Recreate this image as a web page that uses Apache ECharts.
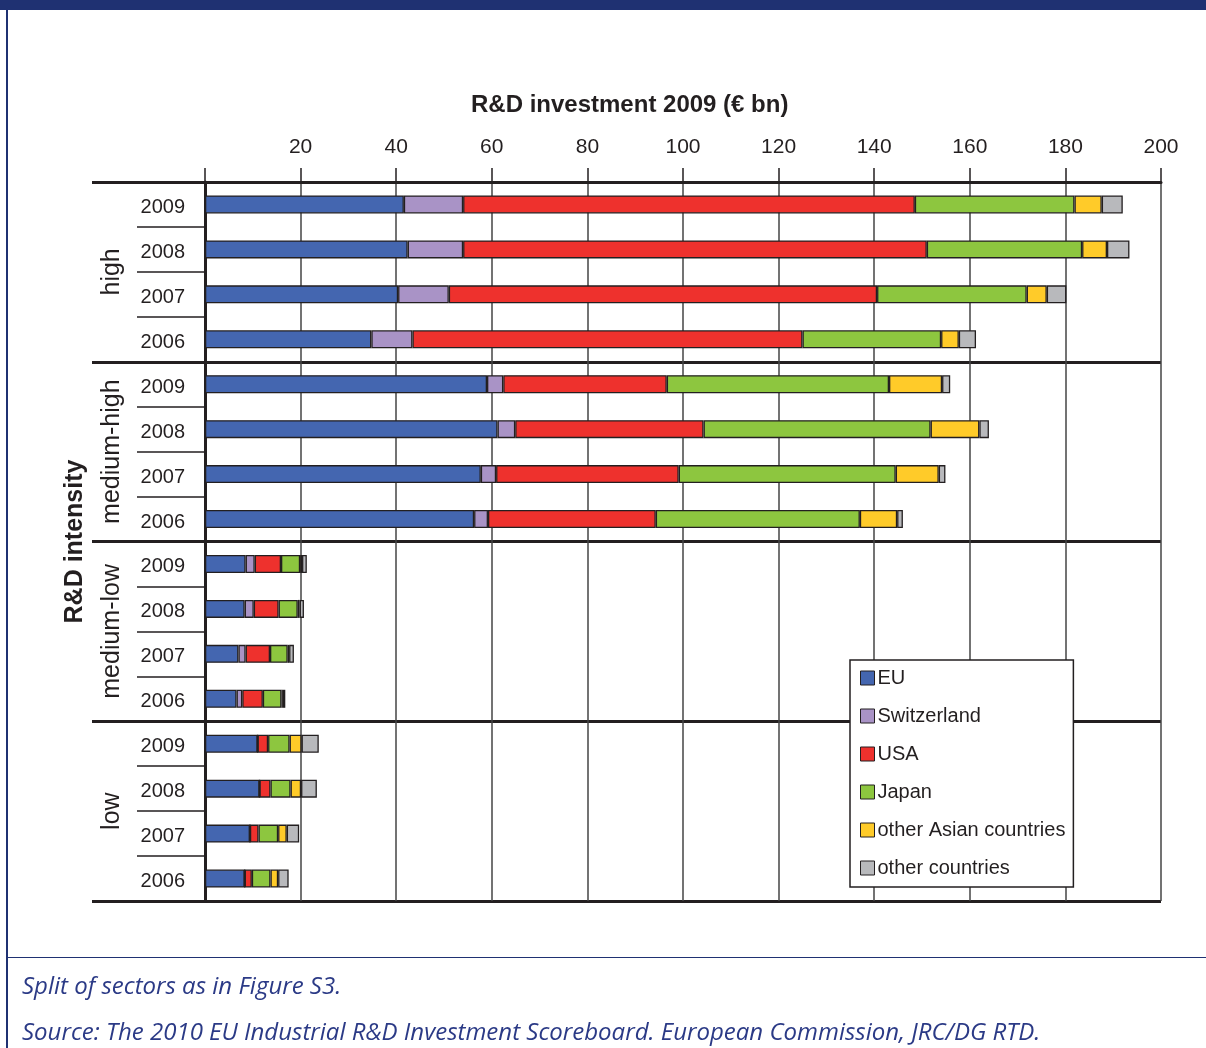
<!DOCTYPE html>
<html>
<head>
<meta charset="utf-8">
<script src="https://cdn.jsdelivr.net/npm/echarts@6/dist/echarts.min.js"></script>
<style>
  body { margin: 0; background: #fff; }
  #wrap { position: relative; width: 1206px; height: 1048px; overflow: hidden; }
  #chart { position: absolute; left: 0; top: 0; width: 1206px; height: 1048px; }
  .frame { position: absolute; background: #1f3172; pointer-events: none; }
  .note { position: absolute; left: 22px; font-family: "Open Sans", sans-serif; font-style: italic;
          font-size: 24px; color: #2b3a86; white-space: nowrap; pointer-events: none; }
</style>
</head>
<body>
<div id="wrap">
  <div id="chart"></div>
  <div class="frame" style="left:0;top:0;width:1206px;height:10px"></div>
  <div class="frame" style="left:6px;top:0;width:2px;height:1048px"></div>
  <div class="frame" style="left:6px;top:957px;width:1200px;height:1px"></div>
  <div class="note" style="top:968px">Split of sectors as in Figure S3.</div>
  <div class="note" style="top:1014px">Source: The 2010 EU Industrial R&amp;D Investment Scoreboard. European Commission, JRC/DG RTD.</div>
</div>
<script>
// grupos de intensidad y años (de arriba a abajo)
const groups = ['high', 'medium-high', 'medium-low', 'low'];
const years = ['2009', '2008', '2007', '2006'];

// valores en miles de millones de euros, mismo orden que las filas
const eu = [41.6, 42.4, 40.4, 34.8, 59.0, 61.2, 57.7, 56.3, 8.5, 8.3, 7.0, 6.6, 11.0, 11.4, 9.4, 8.3];
const switzerland = [12.4, 11.6, 10.6, 8.6, 3.4, 3.7, 3.2, 2.9, 1.9, 1.9, 1.5, 1.2, 0, 0, 0, 0];
const usa = [94.5, 97.0, 89.6, 81.6, 34.2, 39.4, 38.2, 35.1, 5.5, 5.2, 5.1, 4.3, 2.2, 2.3, 1.8, 1.5];
const japan = [33.4, 32.5, 31.3, 29.0, 46.5, 47.5, 45.4, 42.7, 4.0, 4.0, 3.7, 3.9, 4.5, 4.2, 4.1, 3.9];
const otherAsian = [5.7, 5.2, 4.2, 3.7, 11.1, 10.2, 9.0, 7.8, 0.4, 0.4, 0.3, 0.3, 2.5, 2.2, 1.8, 1.6];
const otherCountries = [4.4, 4.7, 4.1, 3.6, 1.7, 2.0, 1.4, 1.2, 1.0, 0.9, 1.0, 0.5, 3.6, 3.3, 2.6, 2.2];

const seriesNames = ['EU', 'Switzerland', 'USA', 'Japan', 'other Asian countries', 'other countries'];
const seriesColors = ['#4466b0', '#a993c6', '#ee312d', '#8dc63f', '#ffcb29', '#b8b9bc'];
const seriesData = [eu, switzerland, usa, japan, otherAsian, otherCountries];

const rows = [];
groups.forEach(g => years.forEach(y => rows.push(g + ' ' + y)));

const ink = '#231f20';
const font = '"Liberation Sans", Arial, sans-serif';

const myChart = echarts.init(document.getElementById('chart'));

myChart.setOption({
  animation: false,
  textStyle: { fontFamily: font, color: ink },
  title: {
    text: 'R&D investment 2009 (€ bn)',
    left: 466,
    top: 88,
    textStyle: { fontFamily: font, fontSize: 24, fontWeight: 'bold', color: ink }
  },
  grid: { left: 205, right: 45, top: 182, bottom: 147 },
  legend: {
    orient: 'vertical',
    left: 850,
    top: 660,
    padding: [8, 8, 9, 10],
    itemGap: 18,
    itemWidth: 14,
    itemHeight: 14,
    itemStyle: { borderColor: ink, borderWidth: 1 },
    backgroundColor: '#fff',
    borderColor: ink,
    borderWidth: 1.5,
    borderRadius: 0,
    textStyle: { fontFamily: font, fontSize: 20, color: ink, padding: [0, 0, 0, -2] },
    data: seriesNames.map(n => ({ name: n, icon: 'rect' }))
  },
  xAxis: {
    type: 'value',
    position: 'top',
    min: 0,
    max: 200,
    interval: 20,
    axisLine: { show: true, lineStyle: { color: ink, width: 3 } },
    axisTick: { show: true, length: 14, lineStyle: { color: ink, width: 1.5 } },
    axisLabel: {
      fontSize: 21, color: ink, margin: 24,
      formatter: v => (v === 0 ? '' : v)
    },
    splitLine: { show: true, lineStyle: { color: '#444', width: 1.5 } }
  },
  yAxis: [
    {
      type: 'category',
      inverse: true,
      data: rows,
      axisLine: { show: true, lineStyle: { color: ink, width: 3 } },
      axisTick: { show: true, interval: 0, length: 68, lineStyle: { color: ink, width: 1.5 } },
      axisLabel: {
        interval: 0, fontSize: 20, color: ink, margin: 20, lineHeight: 26, verticalAlign: 'top',
        padding: [-10, 0, 0, 0],
        formatter: v => v.split(' ')[1]
      }
    },
    {
      type: 'category',
      inverse: true,
      position: 'left',
      data: groups,
      name: 'R&D intensity',
      nameLocation: 'middle',
      nameRotate: 90,
      nameGap: 117,
      nameTextStyle: { fontFamily: font, fontSize: 25, fontWeight: 'bold', color: ink },
      axisLine: { show: false },
      axisTick: { show: true, interval: 0, length: 113, lineStyle: { color: ink, width: 3 } },
      axisLabel: { interval: 0, hideOverlap: false, fontSize: 25, color: ink, rotate: 90, margin: 80 },
      splitLine: { show: true, interval: 0, lineStyle: { color: ink, width: 3 } }
    }
  ],
  series: seriesNames.map((name, i) => ({
    name: name,
    type: 'bar',
    stack: 'total',
    yAxisIndex: 0,
    barWidth: 18,
    itemStyle: { color: seriesColors[i], borderColor: ink, borderWidth: 1.3 },
    emphasis: { disabled: true },
    data: seriesData[i]
  }))
});
</script>
</body>
</html>
